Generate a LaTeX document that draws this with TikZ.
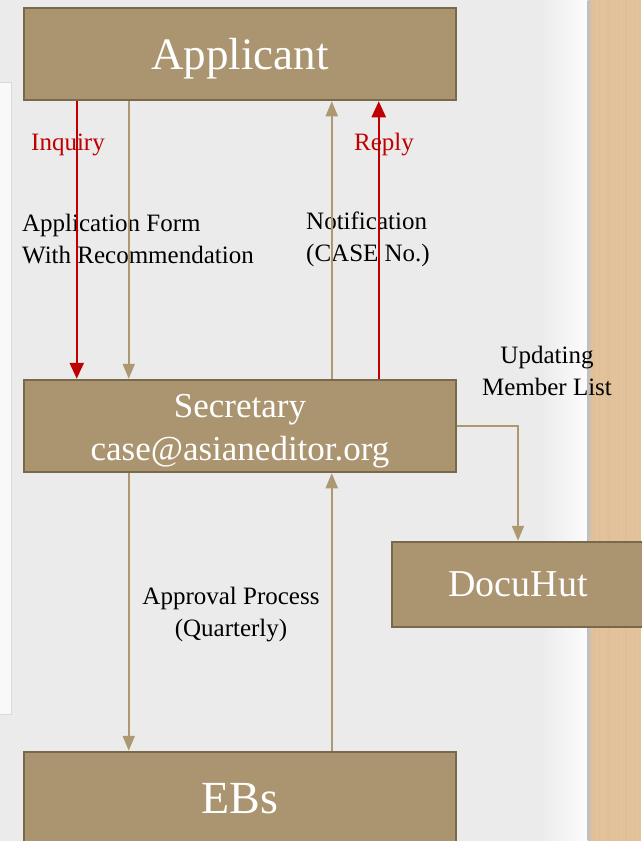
\documentclass[tikz,border=0pt]{standalone}
\usepackage{fontspec}
\setmainfont{Liberation Serif}
\usetikzlibrary{arrows.meta,positioning}
\definecolor{boxtan}{HTML}{AB9470}
\definecolor{boxedge}{HTML}{7A684A}
\definecolor{linetan}{HTML}{AE9872}
\definecolor{flowred}{HTML}{C00000}
\definecolor{paper}{HTML}{EBEBEB}
\definecolor{wood}{HTML}{E2C29B}
\tikzset{
  stage/.style={draw=boxedge, line width=2.5pt, fill=boxtan, text=white,
    minimum width=432pt, minimum height=92pt, inner sep=0pt, align=center,
    text depth=0pt},
  flow/.style={draw=linetan, line width=2pt, -{Triangle[width=12pt,length=15pt]}},
  ask/.style={draw=flowred, line width=2.5pt, -{Triangle[width=14pt,length=16pt]}},
  note/.style={font=\fontsize{25}{32}\selectfont, inner sep=0pt},
}
\begin{document}
\begin{tikzpicture}[x=1pt,y=-1pt]
        \useasboundingbox (0,0) rectangle (641,841);
        %% background, wood strip and side panel
        \fill[paper] (0,0) rectangle (641,841);
        \shade[left color=paper, right color=white!85!paper] (540,0) rectangle (588,841);
        \fill[wood] (588,0) rectangle (641,841);
        \foreach \x/\w in {593/2,599/1,607/3,618/1,625/2,634/1} {
            \fill[wood!85!brown, opacity=0.3] (\x,0) rectangle ++(\w,841);
        }
        \shade[left color=black!25, right color=wood] (587.5,0) rectangle (592,841);
        \filldraw[fill=white!70!paper, draw=black!15] (-2,82) rectangle (11,714);
        %% boxes
        \node[stage, font=\fontsize{45}{54}\selectfont] (app) at (240,54) {Applicant};
        \node[stage, font=\fontsize{35}{43}\selectfont] (sec) at (240,426)
            {\raisebox{-3pt}{Secretary}\\\raisebox{-3pt}{case@asianeditor.org}};
        \node[stage, minimum width=252pt, minimum height=85pt,
              font=\fontsize{38}{46}\selectfont] (docu) at (518,584.5) {DocuHut};
        \node[stage, font=\fontsize{46}{54}\selectfont] (ebs) at (240,798) {EBs};
        %% labels
        \node[note, text=flowred] (inq) at (68,145) {Inquiry};
        \node[note, text=flowred] (rep) at (384,145) {Reply};
        \node[note, anchor=west, align=left] (form) at (22,239) {Application Form\\With Recommendation};
        \node[note, anchor=west, align=left] (notif) at (306,239) {Notification\\(CASE No.)};
        \node[note, align=center] (upd) at (547,371) {Updating\\Member List};
        \node[note, align=center] (appr) at (231,615) {Approval Process\\(Quarterly)};
        %% applicant <-> secretary
        \draw[ask] ([xshift=54pt]app.south west) -- ([xshift=54pt]sec.north west);
        \draw[flow] ([xshift=106pt]app.south west) -- ([xshift=106pt]sec.north west);
        \draw[flow] ([xshift=309pt]sec.north west) -- ([xshift=309pt]app.south west);
        \draw[ask] ([xshift=356pt]sec.north west) -- ([xshift=356pt]app.south west);
        %% secretary -> docuhut
        \draw[flow] (sec.east) -| (docu.north);
        %% secretary <-> EBs
        \draw[flow] ([xshift=106pt]sec.south west) -- ([xshift=106pt]ebs.north west);
        \draw[flow] ([xshift=309pt]ebs.north west) -- ([xshift=309pt]sec.south west);
    \end{tikzpicture}
\end{document}
